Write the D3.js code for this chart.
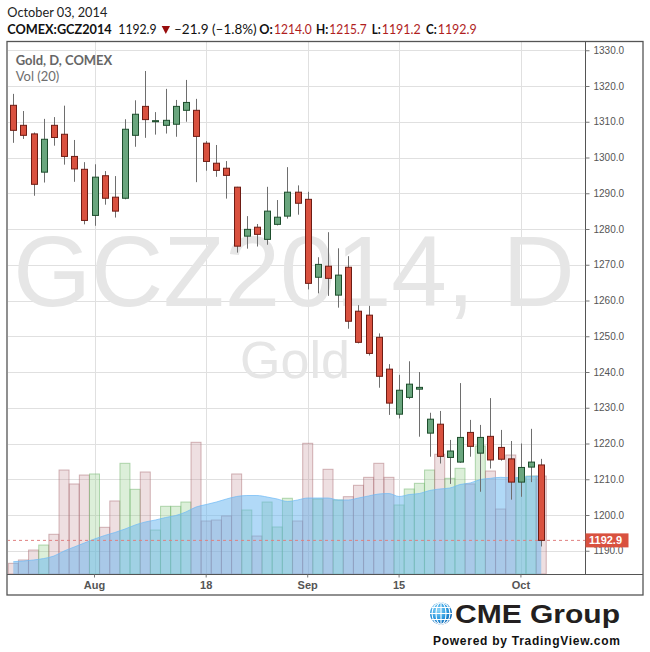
<!DOCTYPE html>
<html><head><meta charset="utf-8">
<script src="https://cdn.jsdelivr.net/npm/d3@7"></script>
<style>body{margin:0;background:#fff;} svg{display:block;}</style>
</head><body>
<svg id="c" width="650" height="652"></svg>
<script>
// ---------------- DATA ----------------
const dates = [
 "2014-07-22","2014-07-23","2014-07-24","2014-07-25","2014-07-28","2014-07-29","2014-07-30","2014-07-31",
 "2014-08-01","2014-08-04","2014-08-05","2014-08-06","2014-08-07","2014-08-08","2014-08-11","2014-08-12",
 "2014-08-13","2014-08-14","2014-08-15","2014-08-18","2014-08-19","2014-08-20","2014-08-21","2014-08-22",
 "2014-08-25","2014-08-26","2014-08-27","2014-08-28","2014-08-29","2014-09-02","2014-09-03","2014-09-04",
 "2014-09-05","2014-09-08","2014-09-09","2014-09-10","2014-09-11","2014-09-12","2014-09-15","2014-09-16",
 "2014-09-17","2014-09-18","2014-09-19","2014-09-22","2014-09-23","2014-09-24","2014-09-25","2014-09-26",
 "2014-09-29","2014-09-30","2014-10-01","2014-10-02","2014-10-03"];
const opens  = [1314.6,1309.0,1306.6,1295.9,1309.0,1306.5,1300.3,1296.7,1283.8,1294.9,1288.9,1288.6,1306.2,1314.3,1310.0,1309.0,1309.3,1313.2,1313.2,1304.0,1298.4,1297.0,1291.7,1278.0,1280.5,1277.1,1281.3,1283.6,1290.3,1288.3,1266.5,1269.6,1261.5,1269.3,1257.0,1255.9,1249.7,1240.8,1228.2,1232.9,1235.2,1222.9,1225.4,1216.1,1214.8,1223.1,1217.3,1222.0,1218.9,1215.7,1209.2,1213.4,1214.0];
const highs  = [1317.8,1313.0,1307.0,1310.8,1311.3,1314.5,1304.9,1298.7,1298.1,1296.2,1294.8,1310.7,1316.0,1324.2,1312.7,1319.2,1316.1,1321.7,1316.4,1304.6,1303.5,1299.0,1291.8,1283.6,1281.4,1291.8,1288.1,1297.3,1292.2,1290.4,1272.1,1279.1,1274.6,1272.4,1258.7,1258.5,1250.8,1242.2,1239.2,1243.0,1240.0,1228.6,1229.1,1221.0,1236.9,1226.6,1225.2,1232.7,1223.8,1220.7,1220.0,1224.1,1215.7];
const lows   = [1304.1,1305.2,1289.3,1293.0,1303.3,1298.0,1293.2,1281.3,1280.9,1286.8,1283.2,1288.3,1303.0,1305.5,1306.4,1306.7,1305.8,1310.0,1293.1,1296.3,1294.6,1288.5,1273.4,1274.5,1275.1,1275.6,1281.0,1282.9,1284.0,1263.1,1262.0,1261.3,1258.0,1252.1,1248.0,1244.6,1235.6,1228.0,1227.0,1232.4,1221.9,1216.3,1214.4,1208.7,1214.6,1216.3,1206.5,1213.0,1215.2,1204.3,1205.1,1209.2,1191.2];
const closes = [1307.6,1306.2,1292.5,1305.1,1305.6,1300.3,1296.8,1282.4,1294.5,1288.6,1285.0,1307.9,1312.1,1310.6,1310.3,1310.4,1314.3,1315.4,1305.9,1298.9,1296.4,1295.0,1275.2,1279.9,1278.5,1285.0,1283.3,1290.3,1287.2,1264.8,1270.1,1266.2,1267.1,1254.2,1248.3,1245.2,1238.8,1231.3,1234.9,1236.6,1235.7,1226.8,1216.4,1217.9,1221.7,1219.2,1221.7,1215.4,1215.6,1209.2,1213.3,1214.8,1192.9];
// volume, thousands of contracts
const volumes = [16.2,21.3,36.4,44.0,60.3,157.9,136.7,150.3,151.9,70.9,110.9,168.1,128.6,154.9,66.8,102.8,102.8,109.3,200.0,80.5,82.0,88.1,151.9,97.2,57.7,109.3,71.4,115.0,80.5,198.5,113.9,159.0,112.4,117.4,134.7,146.8,168.1,146.8,104.8,129.1,137.7,157.9,181.8,145.3,160.5,136.7,194.4,156.4,98.7,180.7,145.8,148.8,148.8];
// Vol (20) moving-average line
const volMA = [18.7,19.7,21.3,23.5,27.3,34.9,41.0,47.1,53.2,58.5,63.0,68.3,74.4,79.0,82.0,85.8,88.8,94.2,101.7,105.5,109.3,113.9,117.7,119.2,119.2,116.9,113.9,110.1,112.4,115.4,115.4,115.4,112.4,112.4,115.4,118.5,121.5,122.2,117.7,120.7,122.2,126.8,129.1,130.6,135.9,138.2,143.5,145.3,146.8,146.2,146.8,148.4,148.4];
const priceTicks = [1190,1200,1210,1220,1230,1240,1250,1260,1270,1280,1290,1300,1310,1320,1330];
const xTickDates = ["2014-08-01","2014-08-18","2014-09-02","2014-09-15","2014-10-01"];
const xTickLabels = ["Aug","18","Sep","15","Oct"];
const lastPrice = 1192.9;

// ---------------- SETUP ----------------
const svg = d3.select("#c");
const L = 7, R = 585, T = 42, B = 574, OUTR = 643, OUTB = 595;
const step = 10.153;
const x = d3.scaleBand().domain(dates).range([8.2, 8.2 + dates.length*step]).paddingInner(0).paddingOuter(0);
const cx = d => x(d) + x.bandwidth()/2;
const y = d3.scaleLinear().domain([1200,1320]).range([515,86]);
const v = d3.scaleLinear().domain([0,200]).range([B, 442.3]);
const data = dates.map((d,i)=>({d, o:opens[i], h:highs[i], l:lows[i], c:closes[i], vol:volumes[i], ma:volMA[i]}));

svg.append("rect").attr("width",650).attr("height",652).attr("fill","#fff");
const defs = svg.append("defs");
defs.append("clipPath").attr("id","plot").append("rect").attr("x",L+1).attr("y",T).attr("width",R-L-1).attr("height",B-T);

const plot = svg.append("g").attr("clip-path","url(#plot)");
const px = n => Math.round(n)+0.5;

// grid
plot.append("g").selectAll("line").data(priceTicks).join("line")
  .attr("x1",L).attr("x2",R).attr("y1",d=>px(y(d))).attr("y2",d=>px(y(d)))
  .attr("stroke","#e0e0e0").attr("stroke-width",1);
plot.append("g").selectAll("line").data(xTickDates).join("line")
  .attr("x1",d=>px(cx(d))).attr("x2",d=>px(cx(d))).attr("y1",T).attr("y2",B)
  .attr("stroke","#e0e0e0").attr("stroke-width",1);

// watermark
plot.append("text").attr("x",294).attr("y",306).attr("text-anchor","middle")
  .attr("font-family","Liberation Sans, Arial, sans-serif").attr("font-size",100)
  .attr("fill","#e6e6e6").text("GCZ2014, D");
plot.append("text").attr("x",295).attr("y",378).attr("text-anchor","middle")
  .attr("font-family","Liberation Sans, Arial, sans-serif").attr("font-size",52)
  .attr("fill","#e6e6e6").text("Gold");

// volume bars
plot.append("g").selectAll("rect").data(data).join("rect")
  .attr("x",d=>cx(d.d)-5).attr("width",10)
  .attr("y",d=>v(d.vol)).attr("height",d=>B-v(d.vol))
  .attr("fill",d=>d.c>=d.o?"rgba(150,205,140,0.33)":"rgba(200,150,155,0.3)")
  .attr("stroke",d=>d.c>=d.o?"rgba(110,180,105,0.5)":"rgba(170,110,115,0.5)")
  .attr("stroke-width",1);

// MA area
const area = d3.area().x(d=>cx(d.d)).y0(B).y1(d=>v(d.ma)).curve(d3.curveMonotoneX);
const line = d3.line().x(d=>cx(d.d)).y(d=>v(d.ma)).curve(d3.curveMonotoneX);
plot.append("path").datum(data).attr("d",area).attr("fill","rgba(100,180,240,0.5)");
plot.append("path").datum(data).attr("d",line).attr("fill","none").attr("stroke","rgba(110,185,245,0.7)").attr("stroke-width",1);

// last price dashed line
plot.append("line").attr("x1",L).attr("x2",R).attr("y1",y(lastPrice)).attr("y2",y(lastPrice))
  .attr("stroke","#e08080").attr("stroke-width",1).attr("stroke-dasharray","3,3");

// candles
const cg = plot.append("g");
cg.selectAll("line").data(data).join("line")
  .attr("x1",d=>px(cx(d.d))).attr("x2",d=>px(cx(d.d)))
  .attr("y1",d=>y(d.h)).attr("y2",d=>y(d.l))
  .attr("stroke","#6e6e6e").attr("stroke-width",1);
cg.selectAll("rect").data(data).join("rect")
  .attr("x",d=>Math.round(cx(d.d))-2.5).attr("width",6)
  .attr("y",d=>y(Math.max(d.o,d.c))).attr("height",d=>Math.max(1,Math.abs(y(d.o)-y(d.c))))
  .attr("fill",d=>d.c>=d.o?"#6aa67e":"#d9513f")
  .attr("stroke",d=>d.c>=d.o?"#1d4d2c":"#6e1c14").attr("stroke-width",1);

// frame
const fr = svg.append("g").attr("stroke","#555").attr("fill","none");
fr.append("rect").attr("x",L).attr("y",T-0.5).attr("width",OUTR-L).attr("height",OUTB-T+0.5).attr("stroke-width",1.3);
fr.append("line").attr("x1",R+0.5).attr("x2",R+0.5).attr("y1",T).attr("y2",B);
fr.append("line").attr("x1",L).attr("x2",OUTR).attr("y1",B+0.5).attr("y2",B+0.5);

// y axis
const ya = svg.append("g").attr("transform",`translate(${R+0.5},0)`)
  .call(d3.axisRight(y).tickValues(priceTicks).tickFormat(d3.format(".1f")).tickSize(4).tickPadding(4));
ya.select(".domain").remove();
ya.selectAll(".tick line").attr("stroke","#777");
ya.selectAll("text").attr("font-family","Liberation Sans, Arial, sans-serif").attr("font-size",10).attr("fill","#555");

// x axis
const xa = svg.append("g").attr("transform",`translate(0,${B+0.5})`)
  .call(d3.axisBottom(x).tickValues(xTickDates).tickFormat((d,i)=>xTickLabels[i]).tickSize(3).tickPadding(3.5));
xa.select(".domain").remove();
xa.selectAll(".tick line").attr("stroke","#777");
xa.selectAll("text").attr("font-family","Liberation Sans, Arial, sans-serif").attr("font-size",11)
  .attr("font-weight","bold").attr("fill","#555");

// last price label
svg.append("rect").attr("x",R+0.5).attr("y",y(lastPrice)-7).attr("width",43).attr("height",14).attr("fill","#d9513f");
svg.append("text").attr("x",R+4).attr("y",y(lastPrice)+4).attr("font-family","Liberation Sans, Arial, sans-serif")
  .attr("font-size",11).attr("font-weight","bold").attr("fill","#fff").text(d3.format(".1f")(lastPrice));

// titles inside pane
const HF = "Lato, 'Open Sans', sans-serif";
function txt(s, xx, yy, size, w, weight, fill){
  svg.append("text").attr("x",xx).attr("y",yy).attr("font-family",HF).attr("font-size",size)
    .attr("font-weight",weight).attr("fill",fill).attr("textLength",w).attr("lengthAdjust","spacingAndGlyphs").text(s);
}
txt("Gold, D, COMEX",15.7,65,13,96.6,"bold","#666");
txt("Vol (20)",15.7,81,13,43.6,"normal","#6e6e6e");

// header
txt("October 03, 2014",7.3,16.7,14,100,"normal","#222");
const red = "#b01e1e";
txt("COMEX:GCZ2014",7.3,34,13,104.4,"bold","#111");
txt("1192.9",118.3,34,13,38.3,"normal","#111");
svg.append("path").attr("d","M161.7,26 L170,26 L165.8,34 Z").attr("fill","#980c0c");
txt("\u201321.9 (\u20131.8%)",174,34,13,82.7,"normal","#111");
txt("O:",259.3,34,13,13.5,"bold","#111");
txt("1214.0",274,34,13,37.7,"normal",red);
txt("H:",316,34,13,12.3,"bold","#111");
txt("1215.7",329.3,34,13,37.4,"normal",red);
txt("L:",371.7,34,13,9,"bold","#111");
txt("1191.2",381.7,34,13,39,"normal",red);
txt("C:",426,34,13,10.7,"bold","#111");
txt("1192.9",437.7,34,13,39,"normal",red);

// logo
const grad = defs.append("radialGradient").attr("id","globe").attr("cx","38%").attr("cy","35%").attr("r","70%");
grad.append("stop").attr("offset","0%").attr("stop-color","#8fd6f8");
grad.append("stop").attr("offset","55%").attr("stop-color","#2e9be0");
grad.append("stop").attr("offset","100%").attr("stop-color","#0a5fae");
defs.append("clipPath").attr("id","gclip").append("circle").attr("cx",441).attr("cy",613.5).attr("r",11);
svg.append("circle").attr("cx",441).attr("cy",613.5).attr("r",11).attr("fill","url(#globe)");
const gl = svg.append("g").attr("clip-path","url(#gclip)").attr("stroke","#fff").attr("stroke-width",1.1).attr("fill","none");
gl.append("line").attr("x1",441).attr("x2",441).attr("y1",600).attr("y2",628);
gl.append("ellipse").attr("cx",441).attr("cy",613.5).attr("rx",5).attr("ry",11);
gl.append("ellipse").attr("cx",441).attr("cy",613.5).attr("rx",9).attr("ry",11);
[-6,0,6].forEach(o=>gl.append("line").attr("x1",428).attr("x2",454).attr("y1",613.5+o).attr("y2",613.5+o));
svg.append("text").attr("x",455).attr("y",623).attr("font-family","Liberation Sans, Arial, sans-serif")
  .attr("font-size",25).attr("font-weight","bold").attr("fill","#231f20")
  .attr("textLength",165).attr("lengthAdjust","spacingAndGlyphs").text("CME Group");
svg.append("text").attr("x",433).attr("y",645).attr("font-family","Liberation Sans, Arial, sans-serif")
  .attr("font-size",12).attr("font-weight","bold").attr("fill","#111")
  .attr("textLength",187).attr("lengthAdjust","spacing").text("Powered by TradingView.com");
</script>
</body></html>
